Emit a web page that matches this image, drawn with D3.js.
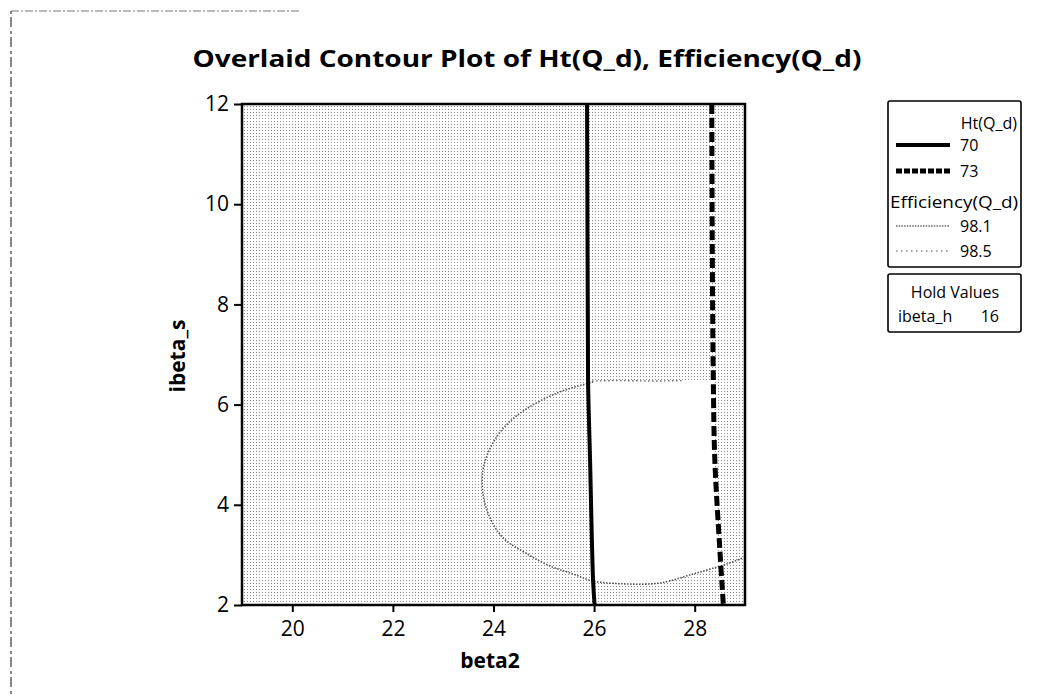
<!DOCTYPE html>
<html><head><meta charset="utf-8">
<script src="https://cdn.jsdelivr.net/npm/d3@7"></script>
<style>
html,body{margin:0;padding:0;background:#fff;}
svg{display:block;}
text{font-family:"Open Sans","DejaVu Sans",sans-serif;fill:#000;}
</style></head>
<body>
<svg id="c" width="1039" height="696"></svg>
<script>
// ---- data ----
const titleText = "Overlaid Contour Plot of Ht(Q_d), Efficiency(Q_d)";
const xLabel = "beta2";
const yLabel = "ibeta_s";
const xDomain = [19, 29];
const yDomain = [2, 12];
const xTicks = [20, 22, 24, 26, 28];
const yTicks = [2, 4, 6, 8, 10, 12];
// Ht(Q_d) contours [beta2, ibeta_s]
const ht70 = [[25.86,12],[25.87,9],[25.88,6.48],[25.92,4.88],[25.98,2.48],[26.01,2]];
const ht73 = [[28.34,12],[28.35,9],[28.37,6.5],[28.40,4.9],[28.50,3.1],[28.57,2]];
// Efficiency(Q_d) contours
const eff981 = [[25.98,6.45],[25.26,6.23],[24.53,5.83],[24.13,5.45],[23.89,5.03],[23.79,4.69],
  [23.79,4.22],[23.93,3.74],[24.19,3.34],[24.67,3.02],[25.12,2.78],[25.58,2.62],[25.98,2.48],
  [26.65,2.42],[27.31,2.44],[27.97,2.62],[28.64,2.82],[28.96,2.94]];
const eff985 = [[25.88,6.47],[26.5,6.48],[27.2,6.47],[27.78,6.48]];
// feasible (unshaded) region
const whiteRegion = [[25.88,6.47],[25.92,4.88],[25.98,2.48],[26.65,2.42],[27.31,2.44],[27.97,2.62],
  [28.48,2.77],[28.45,3.1],[28.40,4.9],[28.37,6.47]];
const htLevels = ["70", "73"];
const effLevels = ["98.1", "98.5"];
const holdName = "ibeta_h";
const holdValue = "16";

// ---- drawing ----
const svg = d3.select("#c");
const x = d3.scaleLinear().domain(xDomain).range([242, 745]);
const y = d3.scaleLinear().domain(yDomain).range([605, 104]);

// page frame remnants
svg.append("line").attr("x1",11).attr("y1",11).attr("x2",300).attr("y2",11)
  .attr("stroke","#777").attr("stroke-width",1.2).attr("stroke-dasharray","8,2,2,2");
svg.append("line").attr("x1",11).attr("y1",11).attr("x2",11).attr("y2",696)
  .attr("stroke","#555").attr("stroke-width",1.4).attr("stroke-dasharray","3,3,10,4");

const defs = svg.append("defs");
const pat = defs.append("pattern").attr("id","dots").attr("patternUnits","userSpaceOnUse")
  .attr("width",3).attr("height",3);
pat.append("rect").attr("width",3).attr("height",3).attr("fill","#fff");
pat.append("rect").attr("x",1).attr("y",1).attr("width",1).attr("height",1).attr("fill","#8a8a8a");
defs.append("clipPath").attr("id","clip").append("rect")
  .attr("x",x(xDomain[0])).attr("y",y(yDomain[1]))
  .attr("width",x(xDomain[1])-x(xDomain[0])).attr("height",y(yDomain[0])-y(yDomain[1]));

const plot = svg.append("g").attr("clip-path","url(#clip)");
plot.append("rect").attr("x",x(xDomain[0])).attr("y",y(yDomain[1]))
  .attr("width",x(xDomain[1])-x(xDomain[0])).attr("height",y(yDomain[0])-y(yDomain[1]))
  .attr("fill","url(#dots)");

const line = d3.line().x(d=>x(d[0])).y(d=>y(d[1]));
const curve = d3.line().x(d=>x(d[0])).y(d=>y(d[1])).curve(d3.curveCatmullRom);
plot.append("path").datum(whiteRegion).attr("d", line(whiteRegion)+"Z").attr("fill","#fff");

plot.append("path").datum(eff981).attr("d",curve).attr("fill","none")
  .attr("stroke","#555").attr("stroke-width",1.6).attr("stroke-dasharray","1.5,1.5");
plot.append("path").datum(eff985).attr("d",line).attr("fill","none")
  .attr("stroke","#666").attr("stroke-width",1.4).attr("stroke-dasharray","1.5,2.5");
plot.append("path").datum(ht70).attr("d",curve).attr("fill","none")
  .attr("stroke","#000").attr("stroke-width",4);
plot.append("path").datum(ht73).attr("d",curve).attr("fill","none")
  .attr("stroke","#000").attr("stroke-width",5).attr("stroke-dasharray","10,4");

// axes
const xa = svg.append("g").attr("transform","translate(0,605)")
  .call(d3.axisBottom(x).tickValues(xTicks).tickSize(7).tickPadding(9).tickFormat(d3.format("d")));
const ya = svg.append("g").attr("transform","translate(242,0)")
  .call(d3.axisLeft(y).tickValues(yTicks).tickSize(8).tickPadding(5).tickFormat(d3.format("d")));
[xa, ya].forEach(a=>{
  a.select(".domain").remove();
  a.selectAll(".tick line").attr("stroke","#000").attr("stroke-width",2);
  a.selectAll(".tick text").attr("font-size",21).attr("font-family","Open Sans, sans-serif").attr("fill","#000");
});
// frame
svg.append("rect").attr("x",x(xDomain[0])).attr("y",y(yDomain[1]))
  .attr("width",x(xDomain[1])-x(xDomain[0])).attr("height",y(yDomain[0])-y(yDomain[1]))
  .attr("fill","none").attr("stroke","#000").attr("stroke-width",2.5);

// titles
svg.append("text").attr("x",527).attr("y",67).attr("text-anchor","middle")
  .attr("font-size",24).attr("font-weight","bold").attr("textLength",669)
  .attr("lengthAdjust","spacingAndGlyphs").text(titleText);
svg.append("text").attr("x",490).attr("y",668).attr("text-anchor","middle")
  .attr("font-size",21).attr("font-weight","bold").text(xLabel);
svg.append("text").attr("transform","translate(185,356) rotate(-90)").attr("text-anchor","middle")
  .attr("font-size",21).attr("font-weight","bold").text(yLabel);

// legend
const lg = svg.append("g");
lg.append("rect").attr("x",888).attr("y",101).attr("width",133).attr("height",166)
  .attr("fill","#fff").attr("stroke","#000").attr("stroke-width",1.6).attr("rx",2);
lg.append("rect").attr("x",888).attr("y",274).attr("width",133).attr("height",58)
  .attr("fill","#fff").attr("stroke","#000").attr("stroke-width",1.6).attr("rx",2);
const fs = 16;
lg.append("text").attr("x",1017).attr("y",129).attr("text-anchor","end").attr("font-size",fs).text("Ht(Q_d)");
const htStyles = [{w:4,dash:null},{w:5,dash:"6,2"}];
htLevels.forEach((lv,i)=>{
  const yy = 145 + i*26;
  lg.append("line").attr("x1",896).attr("x2",950).attr("y1",yy).attr("y2",yy)
    .attr("stroke","#000").attr("stroke-width",htStyles[i].w).attr("stroke-dasharray",htStyles[i].dash);
  lg.append("text").attr("x",960).attr("y",yy+6).attr("font-size",fs).text(lv);
});
lg.append("text").attr("x",1018).attr("y",208).attr("text-anchor","end").attr("font-size",fs)
  .attr("textLength",128).attr("lengthAdjust","spacingAndGlyphs").text("Efficiency(Q_d)");
const effStyles = [{c:"#666",dash:"1.5,1.2"},{c:"#888",dash:"1.5,3.5"}];
effLevels.forEach((lv,i)=>{
  const yy = 226 + i*25;
  lg.append("line").attr("x1",896).attr("x2",950).attr("y1",yy).attr("y2",yy)
    .attr("stroke",effStyles[i].c).attr("stroke-width",1.3).attr("stroke-dasharray",effStyles[i].dash);
  lg.append("text").attr("x",960).attr("y",yy+6).attr("font-size",fs).text(lv);
});
lg.append("text").attr("x",955).attr("y",298).attr("text-anchor","middle").attr("font-size",fs).text("Hold Values");
lg.append("text").attr("x",898).attr("y",322).attr("font-size",fs).text(holdName);
lg.append("text").attr("x",999).attr("y",322).attr("text-anchor","end").attr("font-size",fs).text(holdValue);
</script>
</body></html>
